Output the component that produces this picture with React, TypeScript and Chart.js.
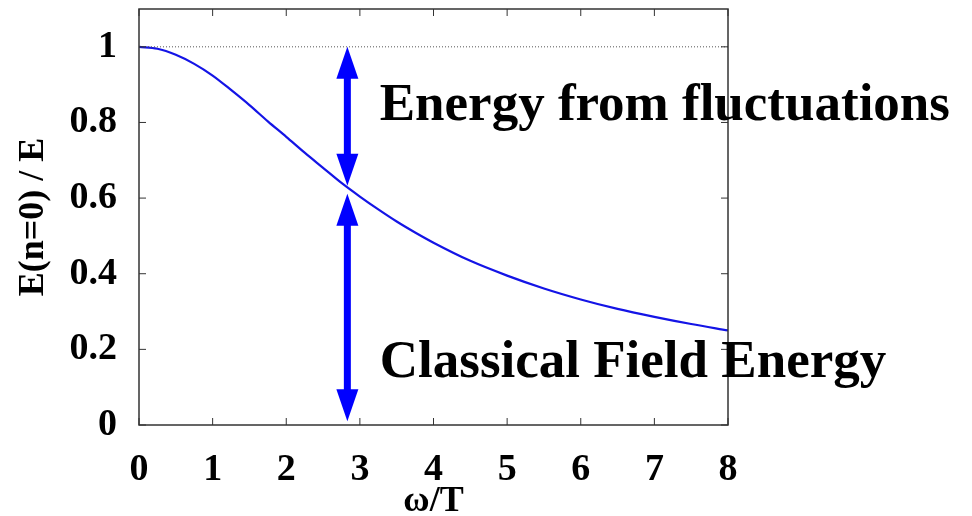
import React, { useEffect, useRef } from "react";
import { Chart, registerables } from "chart.js";

Chart.register(...registerables);

// ω/T sample positions and the read-off curve E(n=0)/E
const xValues = [0, 0.25, 0.5, 0.75, 1, 1.25, 1.5, 1.75, 2, 2.25, 2.5, 2.75, 3, 3.25, 3.5, 3.75, 4, 4.5, 5, 5.5, 6, 6.5, 7, 7.5, 8];
const ratioValues = [1.0, 0.995, 0.979, 0.955, 0.924, 0.886, 0.846, 0.803, 0.762, 0.72, 0.68, 0.64, 0.604, 0.57, 0.538, 0.509, 0.482, 0.434, 0.395, 0.361, 0.332, 0.307, 0.286, 0.267, 0.25];

// reference line at 1
const refX = [0, 8];
const refY = [1, 1];

// arrows (ω/T position and the ends in E units)
const arrowX = 2.83;
const arrowTop = 1.0;
const arrowMid = 0.622;
const arrowBottom = 0.01;

const xTicks = [0, 1, 2, 3, 4, 5, 6, 7, 8];
const yTicks = [0, 0.2, 0.4, 0.6, 0.8, 1];

const labelUpper = "Energy from fluctuations";
const labelLower = "Classical Field Energy";
const labelX = 3.27;
const labelUpperY = 0.807;
const labelLowerY = 0.126;

const FONT = "'Liberation Serif', 'Times New Roman', serif";

const overlay = {
  id: "overlay",
  afterDatasetsDraw(chart: any) {
    const { ctx, chartArea: a, scales } = chart;
    const xs = scales.x;
    const ys = scales.y;
    ctx.save();
    // frame
    ctx.strokeStyle = "#333";
    ctx.lineWidth = 1.5;
    ctx.strokeRect(a.left, a.top, a.right - a.left, a.bottom - a.top);
    // inward ticks, mirrored
    ctx.lineWidth = 1;
    const tl = 7;
    for (const t of xTicks) {
      const px = xs.getPixelForValue(t);
      ctx.beginPath();
      ctx.moveTo(px, a.bottom);
      ctx.lineTo(px, a.bottom - tl);
      ctx.moveTo(px, a.top);
      ctx.lineTo(px, a.top + tl);
      ctx.stroke();
    }
    for (const t of yTicks) {
      const py = ys.getPixelForValue(t);
      ctx.beginPath();
      ctx.moveTo(a.left, py);
      ctx.lineTo(a.left + tl, py);
      ctx.moveTo(a.right, py);
      ctx.lineTo(a.right - tl, py);
      ctx.stroke();
    }
    // arrows
    const ax = xs.getPixelForValue(arrowX);
    const yTop = ys.getPixelForValue(arrowTop);
    const yMid = ys.getPixelForValue(arrowMid);
    const yBot = ys.getPixelForValue(arrowBottom);
    const hw = 11;
    const hl = 32;
    ctx.fillStyle = "#0000ff";
    ctx.strokeStyle = "#0000ff";
    ctx.lineWidth = 7;
    const head = (tipY: number, dir: number) => {
      ctx.beginPath();
      ctx.moveTo(ax, tipY);
      ctx.lineTo(ax - hw, tipY + dir * hl);
      ctx.lineTo(ax + hw, tipY + dir * hl);
      ctx.closePath();
      ctx.fill();
    };
    const shaft = (y1: number, y2: number) => {
      ctx.beginPath();
      ctx.moveTo(ax, y1);
      ctx.lineTo(ax, y2);
      ctx.stroke();
    };
    shaft(yTop + hl - 2, yMid - 4 - hl + 2);
    head(yTop, 1);
    head(yMid - 4, -1);
    shaft(yMid + 4 + hl - 2, yBot - hl + 2);
    head(yMid + 4, 1);
    head(yBot, -1);
    // labels
    ctx.fillStyle = "#000";
    ctx.font = `bold 53px ${FONT}`;
    ctx.textBaseline = "alphabetic";
    ctx.textAlign = "left";
    ctx.fillText(labelUpper, xs.getPixelForValue(labelX), ys.getPixelForValue(labelUpperY));
    ctx.fillText(labelLower, xs.getPixelForValue(labelX), ys.getPixelForValue(labelLowerY));
    ctx.restore();
  },
};

export default function App() {
  const ref = useRef<HTMLCanvasElement | null>(null);
  useEffect(() => {
    if (!ref.current) return;
    const chart = new Chart(ref.current, {
      type: "line",
      data: {
        datasets: [
          {
            data: refX.map((x, i) => ({ x, y: refY[i] })),
            borderColor: "#555",
            borderWidth: 1,
            borderDash: [1, 2],
            pointRadius: 0,
          },
          {
            data: xValues.map((x, i) => ({ x, y: ratioValues[i] })),
            borderColor: "#1414e6",
            borderWidth: 2.2,
            pointRadius: 0,
            cubicInterpolationMode: "monotone",
          },
        ],
      },
      options: {
        animation: false,
        responsive: false,
        layout: { padding: { top: 9, right: 244, left: 0, bottom: 0 } },
        plugins: { legend: { display: false }, tooltip: { enabled: false } },
        scales: {
          x: {
            type: "linear",
            min: 0,
            max: 8,
            afterFit: (s: any) => { s.height = 91; s.paddingLeft = 0; s.paddingRight = 0; },
            afterBuildTicks: (s: any) => { s.ticks = xTicks.map((v) => ({ value: v })); },
            grid: { display: false, drawTicks: false },
            border: { display: false },
            ticks: {
              padding: 22,
              color: "#000",
              font: { family: FONT, size: 38, weight: "bold" },
              callback: (v: any) => String(v),
              maxRotation: 0,
            },
            title: {
              display: true,
              text: "ω/T",
              color: "#000",
              font: { family: FONT, size: 36, weight: "bold" },
              padding: { top: 0, bottom: -7 },
            },
          },
          y: {
            type: "linear",
            min: 0,
            max: 1.1,
            afterFit: (s: any) => { s.width = 139; s.paddingTop = 0; s.paddingBottom = 0; },
            afterBuildTicks: (s: any) => { s.ticks = yTicks.map((v) => ({ value: v })); },
            grid: { display: false, drawTicks: false },
            border: { display: false },
            ticks: {
              padding: 22,
              color: "#000",
              font: { family: FONT, size: 38, weight: "bold" },
              callback: (v: any) => String(Math.round(v * 10) / 10),
            },
            title: {
              display: true,
              text: "E(n=0) / E",
              color: "#000",
              font: { family: FONT, size: 36, weight: "bold" },
              padding: { top: 12, bottom: 0 },
            },
          },
        },
      },
      plugins: [overlay],
    } as any);
    return () => chart.destroy();
  }, []);
  return (
    <div style={{ position: "fixed", left: 0, top: 0, width: 972, height: 516, background: "#fff" }}>
      <canvas ref={ref} width={972} height={516} style={{ width: 972, height: 516 }} />
    </div>
  );
}
